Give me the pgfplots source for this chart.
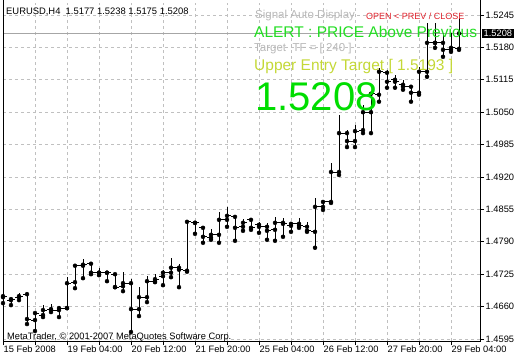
\documentclass[border=0pt]{standalone}
\usepackage{pgfplots}
\usepackage{pgfplotstable}
\pgfplotsset{compat=1.18}
\usepackage{fontspec}
\setmainfont{Liberation Sans}
\definecolor{gridc}{HTML}{C0C0C0}
\definecolor{alertg}{HTML}{22DD22}
\definecolor{bigg}{HTML}{00DD00}
\definecolor{uppery}{HTML}{C4D836}
\definecolor{redt}{HTML}{E0202A}
\definecolor{silvert}{HTML}{B8B8B8}

\pgfplotstableread{
i O H L C
0 1.4679 1.4689 1.4667 1.4681
1 1.4673 1.4677 1.4663 1.4675
2 1.4679 1.4687 1.4673 1.4681
3 1.4685 1.4687 1.4625 1.4635
4 1.4633 1.4649 1.4611 1.4647
5 1.4643 1.4663 1.4639 1.4653
6 1.4655 1.4665 1.4649 1.4653
7 1.4653 1.4661 1.4639 1.4657
8 1.4657 1.4719 1.4657 1.4707
9 1.4709 1.4746 1.4697 1.4742
10 1.4742 1.4756 1.4717 1.4744
11 1.4746 1.4748 1.4725 1.4728
12 1.4728 1.4738 1.4723 1.4728
13 1.4728 1.4730 1.4711 1.4728
14 1.4725 1.4728 1.4699 1.4699
15 1.4701 1.4730 1.4691 1.4707
16 1.4707 1.4715 1.4609 1.4655
17 1.4655 1.4699 1.4641 1.4679
18 1.4679 1.4721 1.4669 1.4711
19 1.4711 1.4725 1.4709 1.4715
20 1.4721 1.4734 1.4703 1.4728
21 1.4728 1.4758 1.4719 1.4738
22 1.4738 1.4746 1.4699 1.4734
23 1.4732 1.4834 1.4730 1.4830
24 1.4828 1.4830 1.4806 1.4828
25 1.4818 1.4820 1.4788 1.4800
26 1.4798 1.4816 1.4794 1.4804
27 1.4804 1.4850 1.4788 1.4834
28 1.4834 1.4860 1.4820 1.4842
29 1.4840 1.4840 1.4792 1.4818
30 1.4820 1.4836 1.4812 1.4828
31 1.4834 1.4838 1.4814 1.4818
32 1.4824 1.4830 1.4808 1.4820
33 1.4820 1.4828 1.4794 1.4812
34 1.4814 1.4840 1.4792 1.4828
35 1.4828 1.4838 1.4800 1.4826
36 1.4822 1.4830 1.4810 1.4826
37 1.4826 1.4838 1.4818 1.4822
38 1.4820 1.4830 1.4810 1.4812
39 1.4810 1.4878 1.4778 1.4860
40 1.4860 1.4872 1.4854 1.4870
41 1.4870 1.4948 1.4868 1.4930
42 1.4930 1.5044 1.4924 1.5008
43 1.5008 1.5014 1.4980 1.4992
44 1.4992 1.5024 1.4980 1.5012
45 1.5014 1.5065 1.5008 1.5050
46 1.5050 1.5089 1.5008 1.5087
47 1.5085 1.5139 1.5071 1.5131
48 1.5129 1.5135 1.5099 1.5111
49 1.5115 1.5125 1.5099 1.5111
50 1.5105 1.5115 1.5095 1.5101
51 1.5101 1.5105 1.5071 1.5089
52 1.5089 1.5141 1.5085 1.5131
53 1.5131 1.5229 1.5121 1.5189
54 1.5189 1.5229 1.5179 1.5189
55 1.5189 1.5209 1.5161 1.5175
56 1.5175 1.5209 1.5171 1.5179
57 1.5177 1.5238 1.5175 1.5208
}\bars

\begin{document}
\begin{tikzpicture}
\begin{axis}[
  scale only axis, width=477pt, height=338pt,
  at={(0pt,0pt)}, anchor=south west,
  xmin=0, xmax=59.625, ymin=1.4591, ymax=1.5269,
  axis line style={draw=none},
  xtick={0,4,...,56},
  xticklabels={15 Feb 2008,,19 Feb 04:00,,20 Feb 12:00,,21 Feb 20:00,,25 Feb 04:00,,26 Feb 12:00,,27 Feb 20:00,,29 Feb 04:00},
  ytick={1.4595,1.4660,1.4725,1.4790,1.4855,1.4920,1.4985,1.5050,1.5115,1.5180,1.5245},
  yticklabels={1.4595,1.4660,1.4725,1.4790,1.4855,1.4920,1.4985,1.5050,1.5115,1.5180,1.5245},
  xtick pos=bottom, ytick pos=right, yticklabel pos=right,
  tick align=outside, major tick length=4pt,
  tick style={black, line width=0.6pt},
  grid=major,
  grid style={gridc, line width=0.6pt, dash pattern=on 3pt off 3pt},
  ticklabel style={font=\fontsize{9.3}{10}\selectfont, text=black},
  yticklabel style={anchor=west, inner xsep=1.5pt},
  xticklabel style={anchor=north west, inner xsep=0.5pt, inner ysep=1pt},
]
\addplot[gray!70, line width=0.7pt] coordinates {(0,1.5208) (59.625,1.5208)};
\addplot[black, only marks, mark=none,
  error bars/.cd, y dir=plus, y explicit, error mark=none,
  error bar style={black, line width=0.9pt}]
  table[x=i, y=L, y error plus expr=\thisrow{H}-\thisrow{L}] {\bars};
\addplot[black, only marks, mark=none,
  error bars/.cd, x dir=minus, x fixed=0.45, error mark=none,
  error bar style={black, line width=0.9pt}]
  table[x=i, y=O] {\bars};
\addplot[black, only marks, mark=none,
  error bars/.cd, x dir=plus, x fixed=0.45, error mark=none,
  error bar style={black, line width=0.9pt}]
  table[x=i, y=C] {\bars};
\end{axis}
% frame (left, bottom, right)
\draw[black, line width=0.8pt] (0pt,341pt) -- (0pt,0pt) -- (477pt,0pt) -- (477pt,341pt);
% price marker
\node[fill=black, text=white, anchor=west, inner xsep=2pt, inner ysep=1.5pt,
  font=\fontsize{9.3}{10}\selectfont] at (478.5pt,307.6pt) {1.5208};
% header texts
\node[anchor=base west, inner sep=0pt, font=\fontsize{9.4}{10}\selectfont] at (3pt,327pt)
  {EURUSD,H4\ \ 1.5177 1.5238 1.5175 1.5208};
\node[anchor=base west, inner sep=0pt, text=silvert, font=\fontsize{11.5}{12}\selectfont] at (252pt,323pt)
  {Signal Auto Display};
\node[anchor=base west, inner sep=0pt, text=redt, font=\fontsize{9}{10}\selectfont] at (363pt,322pt)
  {OPEN < PREV / CLOSE};
\node[anchor=base west, inner sep=0pt, text=alertg, font=\fontsize{15.5}{16}\selectfont] at (251pt,304pt)
  {ALERT : PRICE Above Previous};
\node[anchor=base west, inner sep=0pt, text=silvert, font=\fontsize{11.5}{12}\selectfont] at (251pt,290pt)
  {Target\ \ TF = [ 240 ]};
\node[anchor=base west, inner sep=0pt, text=uppery, font=\fontsize{15.5}{16}\selectfont] at (251pt,271pt)
  {Upper Entry Target [ 1.5193 ]};
\node[anchor=base west, inner sep=0pt, text=bigg, font=\fontsize{40}{42}\selectfont] at (252pt,231pt)
  {1.5208};
\node[anchor=base west, inner sep=0pt, font=\fontsize{9.3}{10}\selectfont] at (4pt,2pt)
  {MetaTrader, © 2001-2007 MetaQuotes Software Corp.};
\pgfresetboundingbox
\path[use as bounding box] (-3pt,-19pt) rectangle (517pt,341pt);
\end{tikzpicture}
\end{document}
